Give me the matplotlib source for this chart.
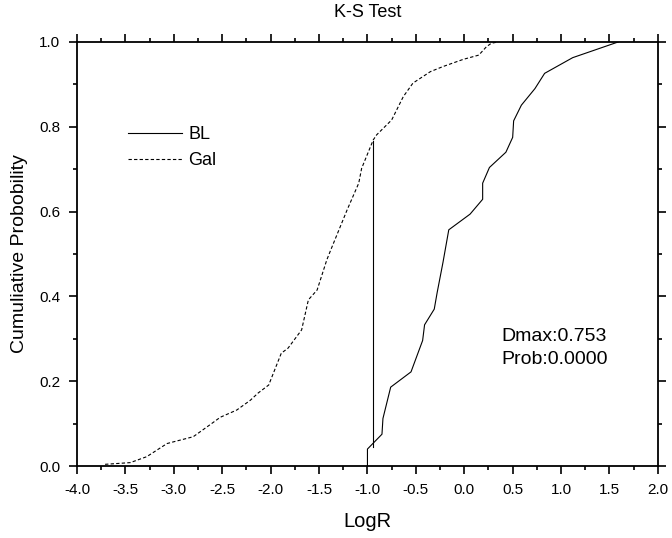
import numpy as np
import matplotlib.pyplot as plt
from matplotlib.ticker import MultipleLocator

plt.rcParams['font.family'] = ['Liberation Sans', 'DejaVu Sans']

# BL sample cumulative distribution
bl_x = [-1.00, -1.00, -0.85, -0.84, -0.76, -0.55, -0.43, -0.41, -0.31, -0.28,
        -0.22, -0.16, 0.06, 0.19, 0.19, 0.26, 0.43, 0.50, 0.51, 0.59,
        0.73, 0.83, 1.12, 1.59]
bl_y = [0.0, 0.04, 0.075, 0.112, 0.186, 0.222, 0.296, 0.333, 0.37, 0.409,
        0.48, 0.557, 0.594, 0.629, 0.667, 0.704, 0.74, 0.775, 0.814, 0.851,
        0.89, 0.926, 0.963, 1.0]

# Gal sample cumulative distribution
gal_x = [-3.71, -3.45, -3.28, -3.07, -2.97, -2.80, -2.61, -2.52, -2.35, -2.21,
         -2.13, -2.02, -1.89, -1.82, -1.68, -1.61, -1.52, -1.42, -1.38, -1.21,
         -1.09, -1.06, -0.94, -0.905, -0.75, -0.63, -0.53, -0.35, -0.22, -0.01,
         0.15, 0.23, 0.28, 0.35]
gal_y = [0.004, 0.008, 0.022, 0.053, 0.059, 0.069, 0.10, 0.115, 0.132, 0.155,
         0.172, 0.191, 0.266, 0.278, 0.321, 0.392, 0.415, 0.486, 0.509, 0.604,
         0.667, 0.702, 0.769, 0.781, 0.816, 0.871, 0.903, 0.93, 0.942, 0.959,
         0.969, 0.989, 0.997, 1.0]

# position of max difference
d_x = -0.94
d_lo, d_hi = 0.046, 0.766

fig = plt.figure(figsize=(6.72, 5.38), dpi=100)
ax = fig.add_axes([0.1146, 0.1338, 0.8644, 0.7882])

ax.plot(bl_x, bl_y, color='black', lw=0.8, label='BL')
ax.plot(gal_x, gal_y, color='black', lw=0.8, linestyle=(0, (3, 2)), label='Gal')
ax.plot([d_x, d_x], [d_lo, d_hi], color='black', lw=0.8)

ax.set_xlim(-4.0, 2.0)
ax.set_ylim(0.0, 1.0)
ax.xaxis.set_major_locator(MultipleLocator(0.5))
ax.xaxis.set_minor_locator(MultipleLocator(0.25))
ax.yaxis.set_major_locator(MultipleLocator(0.2))
ax.yaxis.set_minor_locator(MultipleLocator(0.1))
ax.xaxis.set_major_formatter(plt.FormatStrFormatter('%.1f'))
ax.yaxis.set_major_formatter(plt.FormatStrFormatter('%.1f'))

ax.tick_params(which='both', direction='out', top=True, right=True,
               labeltop=False, labelright=False, width=1.2, labelsize=11, pad=6)
ax.tick_params(which='major', length=6)
ax.tick_params(which='minor', length=3)
for s in ax.spines.values():
    s.set_linewidth(1.3)

ax.set_xlabel('LogR', fontsize=14.5, labelpad=11)
ax.set_ylabel('Cumuliative Probobility', fontsize=14, labelpad=8)
ax.set_title('K-S Test', fontsize=13, pad=18)

ax.legend(loc='center left', bbox_to_anchor=(0.0878, 0.751), frameon=False,
          borderpad=0, borderaxespad=0, fontsize=13, handlelength=3.0,
          handletextpad=0.33, labelspacing=0.5)

ax.text(0.731, 0.278, 'Dmax:0.753\nProb:0.0000', transform=ax.transAxes,
        fontsize=14, linespacing=1.45, va='center', ha='left')

fig.savefig('out.png', dpi=100)
